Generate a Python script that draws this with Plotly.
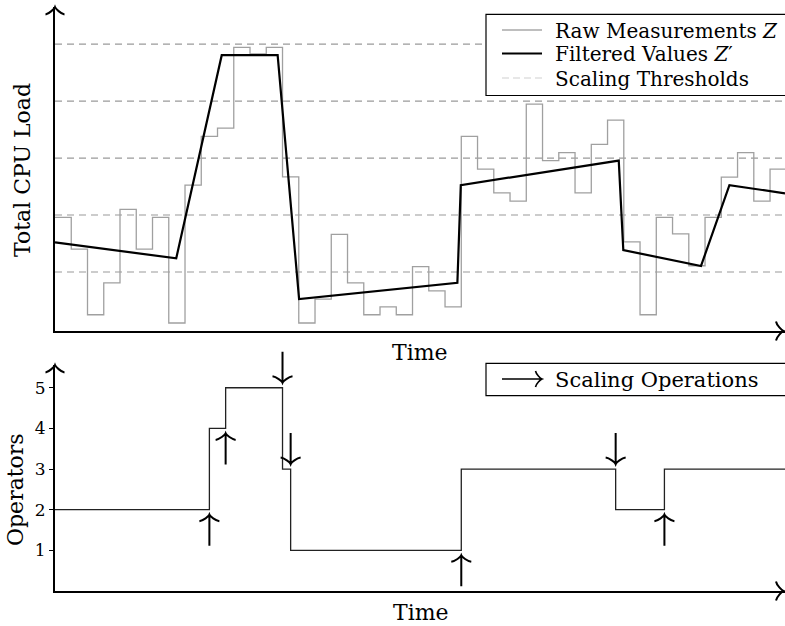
import plotly.graph_objects as go

# ---------------- data ----------------
# raw CPU-load measurements, one value per time step (step-wise signal)
raw_load = [39.2, 28.0, 5.0, 16.2, 42.0, 28.0, 39.2, 2.1, 50.5, 67.6,
            70.5, 98.8, 96.5, 98.8, 53.4, 2.1, 10.5, 33.2, 16.2, 5.0,
            7.8, 5.0, 21.9, 13.4, 7.8, 67.6, 56.1, 47.8, 44.9, 78.9,
            59.1, 61.9, 47.8, 64.8, 73.3, 30.6, 5.0, 39.2, 33.4, 22.2,
            39.2, 53.3, 61.9, 44.9, 56.1]
raw_time = list(range(len(raw_load) + 1))

# filtered values Z'
filt_time = [0, 7.46, 10.26, 13.70, 15.02, 24.76, 24.97, 34.69, 34.97, 39.75, 41.50, 44.92]
filt_load = [30.4, 24.8, 96.1, 96.1, 10.5, 16.2, 50.5, 59.1, 27.7, 22.1, 50.5, 47.6]

# scaling thresholds
thresholds = [20, 40, 60, 80, 100]

# number of operators (step function)
ops_time = [0, 9.5, 10.5, 14.0, 14.5, 25.0, 34.5, 37.5, 44.92]
ops_count = [2, 4, 5, 3, 1, 3, 2, 3, 3]

op_ticks = [1, 2, 3, 4, 5]

T_MAX = 44.92
LOAD_RANGE = [-0.7, 113]
OPS_RANGE = [0, 5.56]

# ---------------- layout helpers ----------------
W, H = 785, 626
ML = 55
PW = W - ML
FONT = "DejaVu Serif"


def px(x):
    return (x - ML) / PW


def py(y):
    return 1 - y / H


TOP_DOM = [py(331), py(7)]
BOT_DOM = [py(591), py(365)]


def t_to_paper(t):
    return t / T_MAX


def v_to_paper(v, dom, rng):
    return dom[0] + (v - rng[0]) / (rng[1] - rng[0]) * (dom[1] - dom[0])


def head(direction, ox=0.0, oy=0.0, hw=9.5, depth=7.5):
    """TikZ-like 'to' arrow head, tip at (ox, oy) in pixel offsets (y up)."""
    pts = [(-depth, hw), (-depth + 0.6, hw * 0.62), (-1.6, 0.6), (0, 0),
           (-1.6, -0.6), (-depth + 0.6, -hw * 0.62), (-depth, -hw)]

    def m(a, b):
        if direction == "right":
            x, y = a, b
        elif direction == "up":
            x, y = b, a
        else:  # down
            x, y = b, -a
        return f"{x + ox:.2f},{y + oy:.2f}"

    p = pts
    return (f"M {m(*p[0])} C {m(*p[1])} {m(*p[2])} {m(*p[3])} "
            f"C {m(*p[4])} {m(*p[5])} {m(*p[6])}")


fig = go.Figure()

# ---------------- top panel ----------------
for th in thresholds:
    fig.add_trace(go.Scatter(x=[0, T_MAX], y=[th, th], mode="lines",
                             line=dict(color="#9a9a9a", width=1.2, dash="7px,5px"),
                             showlegend=False, hoverinfo="skip", xaxis="x", yaxis="y"))

fig.add_trace(go.Scatter(x=raw_time, y=raw_load + [raw_load[-1]], mode="lines",
                         line=dict(color="#a0a0a0", width=1.3, shape="hv"),
                         showlegend=False, xaxis="x", yaxis="y"))

fig.add_trace(go.Scatter(x=filt_time, y=filt_load, mode="lines",
                         line=dict(color="black", width=2.2),
                         showlegend=False, xaxis="x", yaxis="y"))

# ---------------- bottom panel ----------------
fig.add_trace(go.Scatter(x=ops_time, y=ops_count, mode="lines",
                         line=dict(color="#222222", width=1.3, shape="hv"),
                         showlegend=False, xaxis="x2", yaxis="y2"))

shapes = []
# scaling operation arrows, derived from the operator step changes
for i in range(1, len(ops_count)):
    before, after = ops_count[i - 1], ops_count[i]
    if before == after:
        continue
    t = ops_time[i]
    if after > before:
        path = "M 0,-36 L 0,-5 " + head("up", 0, -5, hw=10, depth=6.5)
    else:
        path = "M 0,36 L 0,5 " + head("down", 0, 5, hw=10, depth=6.5)
    shapes.append(dict(type="path", xref="paper", yref="paper", xsizemode="pixel", ysizemode="pixel",
                       xanchor=t_to_paper(t), yanchor=v_to_paper(before, BOT_DOM, OPS_RANGE),
                       path=path, line=dict(color="black", width=2), layer="above"))

# axis arrow heads
for dom in (TOP_DOM, BOT_DOM):
    shapes.append(dict(type="path", xref="paper", yref="paper", xsizemode="pixel", ysizemode="pixel",
                       xanchor=0, yanchor=dom[1], path=head("up", 0, 0, hw=9.5, depth=7.5),
                       line=dict(color="black", width=2)))
    shapes.append(dict(type="path", xref="paper", yref="paper", xsizemode="pixel", ysizemode="pixel",
                       xanchor=1, yanchor=dom[0], path=head("right", -1.5, 0, hw=9.5, depth=7.5),
                       line=dict(color="black", width=2)))

# ---------------- legends (drawn manually) ----------------
# top legend box
shapes.append(dict(type="rect", xref="paper", yref="paper",
                   x0=px(486), x1=px(805), y0=py(95.5), y1=py(14.3),
                   line=dict(color="black", width=1.2), fillcolor="white", layer="above"))
leg_rows = [("Raw Measurements <i>Z</i>", 30.0, dict(color="#a8a8a8", width=1.3)),
            ("Filtered Values <i>Z</i>′", 53.5, dict(color="black", width=2.2)),
            ("Scaling Thresholds", 78.0, dict(color="#cfcfcf", width=1.2, dash="7px,4px"))]
annotations = []
for text, yy, ln in leg_rows:
    shapes.append(dict(type="line", xref="paper", yref="paper",
                       x0=px(502), x1=px(542), y0=py(yy), y1=py(yy), line=ln, layer="above"))
    annotations.append(dict(text=text, xref="paper", yref="paper", x=px(553), y=py(yy + 1),
                            xanchor="left", yanchor="middle", showarrow=False,
                            font=dict(family=FONT, size=20, color="black")))

# bottom legend box
shapes.append(dict(type="rect", xref="paper", yref="paper",
                   x0=px(486), x1=px(805), y0=py(395.7), y1=py(363.3),
                   line=dict(color="black", width=1.2), fillcolor="white", layer="above"))
shapes.append(dict(type="path", xref="paper", yref="paper", xsizemode="pixel", ysizemode="pixel",
                   xanchor=px(542), yanchor=py(379),
                   path="M -40,0 L 0,0 " + head("right", 0, 0, hw=8, depth=6.5),
                   line=dict(color="black", width=1.6), layer="above"))
annotations.append(dict(text="Scaling Operations", xref="paper", yref="paper", x=px(553), y=py(380),
                        xanchor="left", yanchor="middle", showarrow=False,
                        font=dict(family=FONT, size=21, color="black")))

# axis titles
annotations += [
    dict(text="Time", xref="paper", yref="paper", x=px(420), y=py(352), xanchor="center",
         yanchor="middle", showarrow=False, font=dict(family=FONT, size=22, color="black")),
    dict(text="Time", xref="paper", yref="paper", x=px(421), y=py(612), xanchor="center",
         yanchor="middle", showarrow=False, font=dict(family=FONT, size=22, color="black")),
    dict(text="Total CPU Load", xref="paper", yref="paper", x=px(23), y=py(170), textangle=-90,
         xanchor="center", yanchor="middle", showarrow=False,
         font=dict(family=FONT, size=22, color="black")),
    dict(text="Operators", xref="paper", yref="paper", x=px(16), y=py(490), textangle=-90,
         xanchor="center", yanchor="middle", showarrow=False,
         font=dict(family=FONT, size=22, color="black")),
]

axis_common = dict(showgrid=False, zeroline=False, showline=True, linecolor="black",
                   linewidth=2, fixedrange=True)

fig.update_layout(
    width=W, height=H,
    margin=dict(l=ML, r=0, t=0, b=0),
    paper_bgcolor="white", plot_bgcolor="white",
    showlegend=False,
    font=dict(family=FONT, color="black"),
    xaxis=dict(domain=[0, 1], range=[0, T_MAX], anchor="y", showticklabels=False, ticks="",
               **axis_common),
    yaxis=dict(domain=TOP_DOM, range=LOAD_RANGE, anchor="x", showticklabels=False,
               ticks="", **axis_common),
    xaxis2=dict(domain=[0, 1], range=[0, T_MAX], anchor="y2", showticklabels=False, ticks="",
                **axis_common),
    yaxis2=dict(domain=BOT_DOM, range=OPS_RANGE, anchor="x2", tickvals=op_ticks,
                ticks="outside", ticklen=4, tickwidth=1.2, tickcolor="black",
                tickfont=dict(family=FONT, size=17, color="black"), **axis_common),
    shapes=shapes,
    annotations=annotations,
)

fig.write_html("out.html")
